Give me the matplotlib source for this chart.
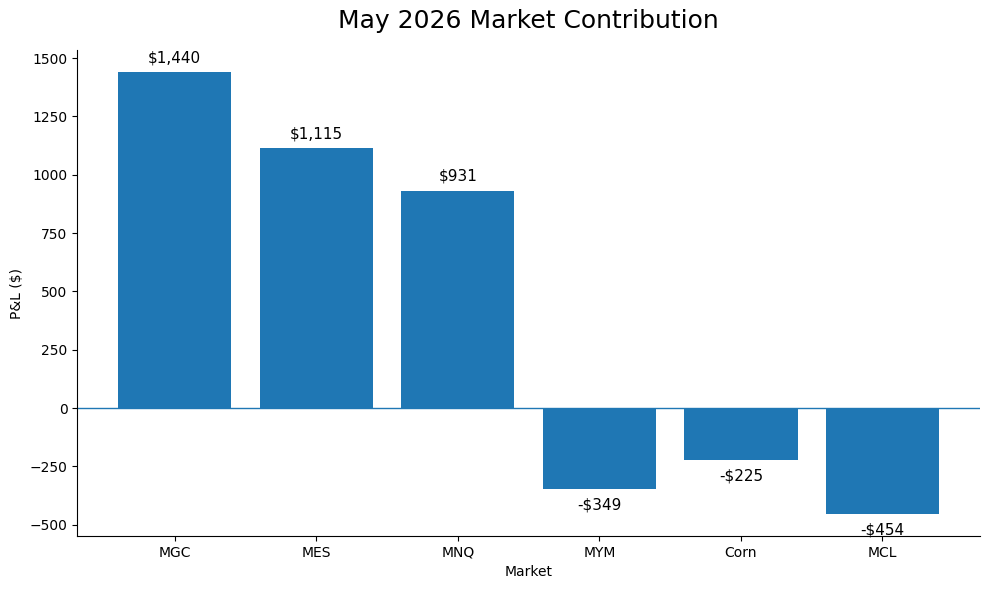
import matplotlib
matplotlib.use("Agg")
import matplotlib.pyplot as plt

markets = ["MGC", "MES", "MNQ", "MYM", "Corn", "MCL"]
pnl = [1440, 1115, 931, -349, -225, -454]

fig, ax = plt.subplots(figsize=(9.89, 5.89), dpi=100)
bars = ax.bar(markets, pnl, color="#1f77b4")
ax.axhline(0, color="#1f77b4", linewidth=1)

for b, v in zip(bars, pnl):
  label = "${:,.0f}".format(v) if v >= 0 else "-${:,.0f}".format(-v)
  x = b.get_x() + b.get_width() / 2
  if v >= 0:
    ax.annotate(label, (x, v), xytext=(0, 5), textcoords="offset points",
                ha="center", va="bottom", fontsize=11)
  else:
    ax.annotate(label, (x, v), xytext=(0, -6), textcoords="offset points",
                ha="center", va="top", fontsize=11)

ax.set_title("May 2026 Market Contribution", fontsize=18, pad=16)
ax.set_xlabel("Market")
ax.set_ylabel("P&L ($)")
ax.spines["top"].set_visible(False)
ax.spines["right"].set_visible(False)
fig.subplots_adjust(left=0.078, right=0.991, top=0.915, bottom=0.09)
plt.savefig("out.png")
